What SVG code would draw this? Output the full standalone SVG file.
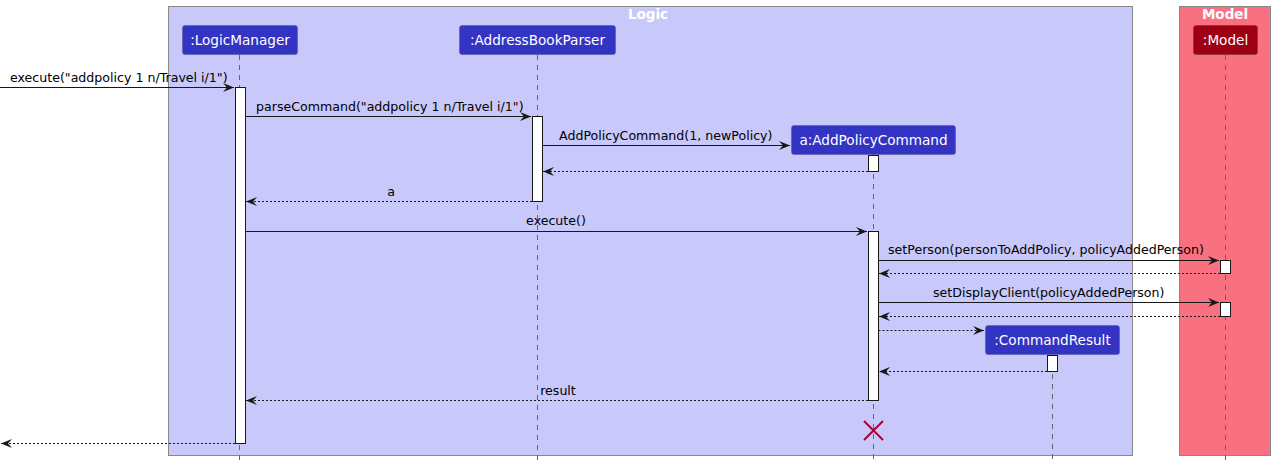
<svg xmlns="http://www.w3.org/2000/svg" width="1276" height="468" viewBox="0 0 1276 468">
<defs>
<marker id="ah" markerWidth="14" markerHeight="12" refX="11" refY="6" orient="auto" markerUnits="userSpaceOnUse">
<polygon points="0,1.5 11,6 0,10.5 4,6" fill="#181818"/>
</marker>
<style>
.grp{stroke:#888888;stroke-width:1}
.gt{font-family:"DejaVu Sans",sans-serif;font-size:13.5px;font-weight:bold;fill:#ffffff;text-anchor:middle}
.pt{font-family:"DejaVu Sans",sans-serif;font-size:13.6px;fill:#ffffff;text-anchor:middle}
.ml{font-family:"DejaVu Sans",sans-serif;font-size:12.6px;fill:#000000}
.life{stroke:#666666;stroke-width:1;stroke-dasharray:5,5}
.act{fill:#ffffff;stroke:#181818;stroke-width:1}
.msg{stroke:#181818;stroke-width:1;fill:none;marker-end:url(#ah)}
.ret{stroke:#181818;stroke-width:1;fill:none;stroke-dasharray:2,2;marker-end:url(#ah)}
</style>
</defs>
<g id="box-logic">
<rect class="grp" x="168.5" y="6.5" width="964" height="449" fill="#C8C8FA"/>
<text class="gt" x="648" y="19">Logic</text>
</g>
<g id="box-model">
<rect class="grp" x="1179.5" y="6.5" width="91" height="449" fill="#F97181"/>
<text class="gt" x="1225" y="19">Model</text>
</g>
<g id="lifelines">
<line class="life" x1="239.5" y1="55" x2="239.5" y2="462"/>
<line class="life" x1="537.5" y1="55" x2="537.5" y2="462"/>
<line class="life" x1="873.5" y1="154" x2="873.5" y2="462"/>
<line class="life" x1="1052.5" y1="354" x2="1052.5" y2="462"/>
<line class="life" x1="1225.5" y1="55" x2="1225.5" y2="462"/>
</g>
<g id="p-logicmanager">
<rect x="182.5" y="25.5" width="115" height="29" rx="2.5" fill="#3333C4" stroke="#555588" stroke-width="0.5"/>
<text class="pt" x="240" y="45">:LogicManager</text>
</g>
<g id="p-addressbookparser">
<rect x="459.5" y="25.5" width="156" height="29" rx="2.5" fill="#3333C4" stroke="#555588" stroke-width="0.5"/>
<text class="pt" x="537.5" y="45">:AddressBookParser</text>
</g>
<g id="p-addpolicycommand">
<rect x="791.5" y="125.5" width="164" height="29" rx="2.5" fill="#3333C4" stroke="#555588" stroke-width="0.5"/>
<text class="pt" x="873.5" y="145">a:AddPolicyCommand</text>
</g>
<g id="p-commandresult">
<rect x="985.5" y="325.5" width="134" height="29" rx="2.5" fill="#3333C4" stroke="#555588" stroke-width="0.5"/>
<text class="pt" x="1052.5" y="345">:CommandResult</text>
</g>
<g id="p-model">
<rect x="1193.5" y="25.5" width="64" height="29" rx="2.5" fill="#9D0012" stroke="#663333" stroke-width="0.5"/>
<text class="pt" x="1225.5" y="45">:Model</text>
</g>
<g id="activations">
<rect class="act" x="235.5" y="87.5" width="10" height="356"/>
<rect class="act" x="532.5" y="116.5" width="10" height="85"/>
<rect class="act" x="868.5" y="155.5" width="10" height="16"/>
<rect class="act" x="868.5" y="231.5" width="10" height="169"/>
<rect class="act" x="1220.5" y="260.5" width="10" height="13"/>
<rect class="act" x="1220.5" y="302.5" width="10" height="14"/>
<rect class="act" x="1047.5" y="355.5" width="10" height="16"/>
</g>
<g id="connectors">
<line class="msg" x1="0" y1="87.5" x2="234" y2="87.5"/>
<text class="ml" x="10" y="82">execute("addpolicy 1 n/Travel i/1")</text>
<line class="msg" x1="245.5" y1="116.5" x2="531" y2="116.5"/>
<text class="ml" x="256" y="111">parseCommand("addpolicy 1 n/Travel i/1")</text>
<line class="msg" x1="542.5" y1="145.5" x2="790" y2="145.5"/>
<text class="ml" x="559" y="140">AddPolicyCommand(1, newPolicy)</text>
<line class="ret" x1="868" y1="171.5" x2="543" y2="171.5"/>
<line class="ret" x1="532" y1="201.5" x2="246" y2="201.5"/>
<text class="ml" x="391" y="196" text-anchor="middle">a</text>
<line class="msg" x1="245.5" y1="231.5" x2="867" y2="231.5"/>
<text class="ml" x="556" y="225" text-anchor="middle">execute()</text>
<line class="msg" x1="878.5" y1="260.5" x2="1219" y2="260.5"/>
<text class="ml" x="888" y="254">setPerson(personToAddPolicy, policyAddedPerson)</text>
<line class="ret" x1="1220" y1="273.5" x2="879" y2="273.5"/>
<line class="msg" x1="878.5" y1="302.5" x2="1219" y2="302.5"/>
<text class="ml" x="933" y="297">setDisplayClient(policyAddedPerson)</text>
<line class="ret" x1="1220" y1="316.5" x2="879" y2="316.5"/>
<line class="ret" x1="878.5" y1="330.5" x2="984" y2="330.5"/>
<line class="ret" x1="1047" y1="371.5" x2="879" y2="371.5"/>
<line class="ret" x1="868" y1="400.5" x2="246" y2="400.5"/>
<text class="ml" x="558" y="395" text-anchor="middle">result</text>
<line class="ret" x1="235" y1="443.5" x2="1" y2="443.5"/>
</g>
<g id="destroy">
<line x1="864" y1="421" x2="883" y2="440" stroke="#A80036" stroke-width="2"/>
<line x1="883" y1="421" x2="864" y2="440" stroke="#A80036" stroke-width="2"/>
</g>
</svg>
